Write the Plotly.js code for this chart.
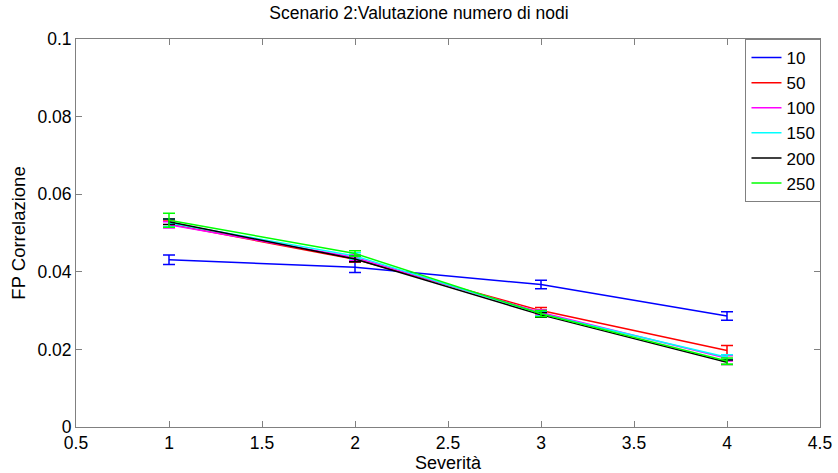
<!DOCTYPE html>
<html>
<head>
<meta charset="utf-8">
<script src="https://cdn.plot.ly/plotly-3.0.1.min.js"></script>
<style>
  html, body { margin: 0; padding: 0; background: #fff; }
  #chart { width: 838px; height: 473px; }
</style>
</head>
<body>
<div id="chart"></div>
<script>
// Severity levels on the x axis
const severita = [1, 2, 3, 4];

// Number of nodes per series (legend labels)
const nodi = ['10', '50', '100', '150', '200', '250'];
const colori = ['#0000ff', '#ff0000', '#ff00ff', '#00ffff', '#000000', '#00ff00'];

// Mean FP correlation per series
const fp10  = [0.0431, 0.0412, 0.0367, 0.0286];
const fp50  = [0.0523, 0.0432, 0.0300, 0.0197];
const fp100 = [0.0521, 0.0437, 0.0295, 0.0177];
const fp150 = [0.0526, 0.0441, 0.0292, 0.0180];
const fp200 = [0.0529, 0.0433, 0.0289, 0.0167];
const fp250 = [0.0533, 0.0447, 0.0292, 0.0170];

// Error bar half-widths per series
const err10  = [0.0012, 0.0014, 0.0011, 0.0011];
const err50  = [0.0008, 0.0007, 0.0008, 0.0013];
const err100 = [0.0008, 0.0007, 0.0007, 0.0007];
const err150 = [0.0010, 0.0008, 0.0006, 0.0006];
const err200 = [0.0007, 0.0007, 0.0006, 0.0006];
const err250 = [0.0018, 0.0007, 0.0008, 0.0008];

const medie = [fp10, fp50, fp100, fp150, fp200, fp250];
const errori = [err10, err50, err100, err150, err200, err250];

const FONT = 'Liberation Sans, Arial, sans-serif';

const traces = nodi.map((nome, i) => ({
  x: severita,
  y: medie[i],
  name: nome,
  type: 'scatter',
  mode: 'lines',
  line: { color: colori[i], width: 1.5 },
  error_y: {
    type: 'data',
    array: errori[i],
    visible: true,
    color: colori[i],
    thickness: 1.5,
    width: 6
  }
}));

const axisBase = {
  showline: true,
  linecolor: '#808080',
  linewidth: 1,
  mirror: 'ticks',
  ticks: 'inside',
  ticklen: 6,
  tickcolor: '#808080',
  showgrid: false,
  zeroline: false,
  tickfont: { family: FONT, size: 17.5, color: '#000' }
};

const layout = {
  width: 838,
  height: 473,
  margin: { l: 76, r: 18, t: 39, b: 46 },
  paper_bgcolor: '#fff',
  plot_bgcolor: '#fff',
  title: {
    text: 'Scenario 2:Valutazione numero di nodi',
    font: { family: FONT, size: 17.5, color: '#000' },
    x: 0.5,
    xanchor: 'center',
    y: 0.972,
    yanchor: 'middle'
  },
  xaxis: Object.assign({}, axisBase, {
    range: [0.5, 4.5],
    dtick: 0.5,
    tick0: 0.5,
    title: {
      text: 'Severità',
      font: { family: FONT, size: 18, color: '#000' },
      standoff: 0
    }
  }),
  yaxis: Object.assign({}, axisBase, {
    range: [0, 0.1],
    dtick: 0.02,
    tick0: 0,
    title: {
      text: 'FP Correlazione',
      font: { family: FONT, size: 18.5, color: '#000' },
      standoff: 6
    }
  }),
  legend: {
    x: 1.002,
    xanchor: 'right',
    y: 1,
    yanchor: 'top',
    bgcolor: '#fff',
    bordercolor: '#808080',
    borderwidth: 1,
    font: { family: FONT, size: 17, color: '#000' },
    itemwidth: 30,
    tracegroupgap: 0
  },
  showlegend: true
};

Plotly.newPlot('chart', traces, layout, { displayModeBar: false, staticPlot: true });
</script>
</body>
</html>
